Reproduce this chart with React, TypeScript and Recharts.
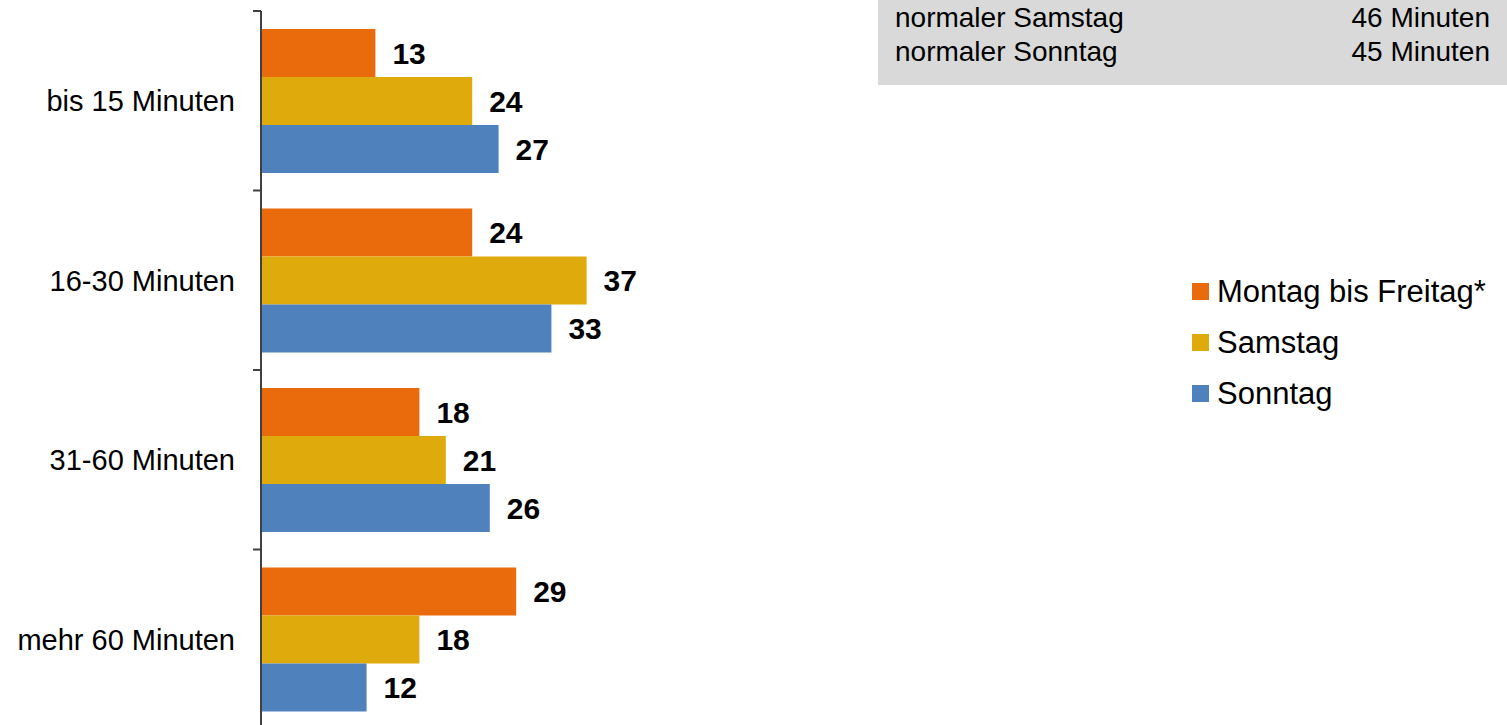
import { BarChart, Bar, XAxis, YAxis, Legend, LabelList } from 'recharts'

const categories = ['bis 15 Minuten', '16-30 Minuten', '31-60 Minuten', 'mehr 60 Minuten']
const montagBisFreitag = [13, 24, 18, 29]
const samstag = [24, 37, 21, 18]
const sonntag = [27, 33, 26, 12]

const noteLabels = ['normaler Samstag', 'normaler Sonntag']
const noteValues = ['46 Minuten', '45 Minuten']

const data = categories.map((name, i) => ({
  name,
  montag: montagBisFreitag[i],
  samstag: samstag[i],
  sonntag: sonntag[i],
}))

const FONT = '"Liberation Sans", Arial, sans-serif'
const AXIS = '#404040'

const CategoryTick = (props: any) => {
  const { x, y, payload, index, visibleTicksCount } = props
  const half = payload?.offset ?? 89.75
  const x1 = x + 18
  const x2 = x + 26
  return (
    <g>
      <text x={x} y={y} dy="0.355em" textAnchor="end" fontSize={29} fill="#000" fontFamily={FONT}>
        {payload.value}
      </text>
      <line x1={x1} x2={x2} y1={y - half} y2={y - half} stroke={AXIS} strokeWidth={2} />
      {index === visibleTicksCount - 1 && (
        <line x1={x1} x2={x2} y1={y + half} y2={y + half} stroke={AXIS} strokeWidth={2} />
      )}
    </g>
  )
}

const ValueLabel = (props: any) => {
  const { x, y, width, height, value } = props
  return (
    <text
      x={x + width + 17}
      y={y + height / 2}
      dy="0.355em"
      fontSize={30}
      fontWeight="bold"
      fill="#000"
      fontFamily={FONT}
    >
      {value}
    </text>
  )
}

const LegendBox = (props: any) => {
  const { payload } = props
  return (
    <div style={{ fontFamily: FONT }}>
      {(payload || []).map((item: any) => (
        <div key={item.value} style={{ display: 'flex', alignItems: 'center', height: 51 }}>
          <span style={{ width: 17, height: 17, background: item.color, display: 'inline-block', marginRight: 8 }} />
          <span style={{ fontSize: 31, color: '#000' }}>{item.value}</span>
        </div>
      ))}
    </div>
  )
}

export default function App() {
  return (
    <div style={{ position: 'relative', width: 1507, height: 725, overflow: 'hidden', background: '#fff' }}>
      <style>{`body{margin:0}`}</style>
      <div
        style={{
          position: 'absolute',
          left: 878,
          top: 0,
          width: 629,
          height: 85,
          background: '#d9d9d9',
          fontFamily: FONT,
          fontSize: 28,
          lineHeight: '34px',
          paddingTop: 1,
          boxSizing: 'border-box',
        }}
      >
        {noteLabels.map((label, i) => (
          <div key={label} style={{ display: 'flex', justifyContent: 'space-between', padding: '0 17px' }}>
            <span>{label}</span>
            <span>{noteValues[i]}</span>
          </div>
        ))}
      </div>
      <BarChart
        width={1507}
        height={733}
        data={data}
        layout="vertical"
        margin={{ top: 11, right: 542, bottom: 4, left: 0 }}
        barGap={0}
        barSize={48}
      >
        <XAxis type="number" domain={[0, 80]} hide />
        <YAxis
          type="category"
          dataKey="name"
          width={261}
          axisLine={{ stroke: AXIS, strokeWidth: 2 }}
          tickLine={false}
          tickSize={0}
          tickMargin={26}
          tick={<CategoryTick />}
          interval={0}
        />
        <Legend
          layout="vertical"
          align="center"
          verticalAlign="middle"
          content={<LegendBox />}
          wrapperStyle={{ position: 'absolute', left: 1192, top: 266, width: 315 }}
        />
        <Bar dataKey="montag" name="Montag bis Freitag*" fill="#EA6B0C" isAnimationActive={false}>
          <LabelList dataKey="montag" content={<ValueLabel />} />
        </Bar>
        <Bar dataKey="samstag" name="Samstag" fill="#DFAA0B" isAnimationActive={false}>
          <LabelList dataKey="samstag" content={<ValueLabel />} />
        </Bar>
        <Bar dataKey="sonntag" name="Sonntag" fill="#4F81BD" isAnimationActive={false}>
          <LabelList dataKey="sonntag" content={<ValueLabel />} />
        </Bar>
      </BarChart>
    </div>
  )
}
